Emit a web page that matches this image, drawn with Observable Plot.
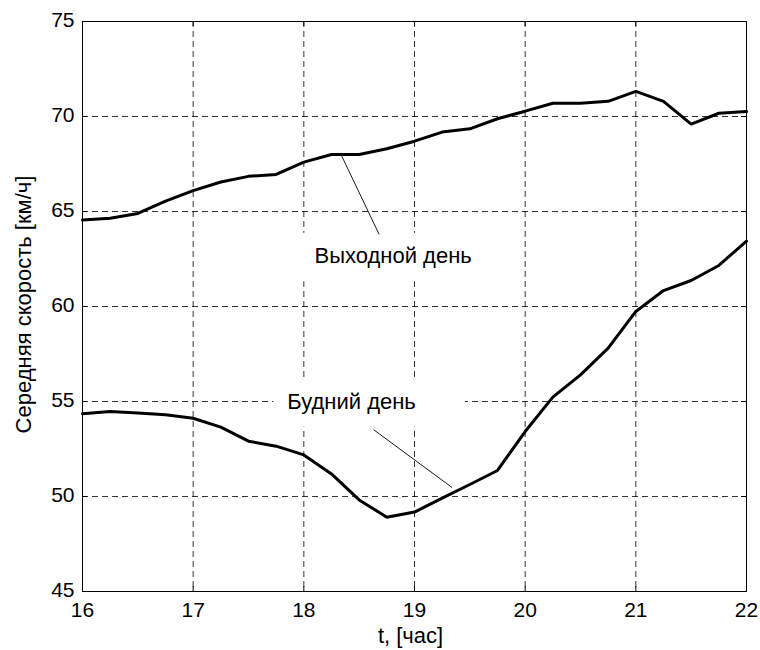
<!DOCTYPE html>
<html>
<head>
<meta charset="utf-8">
<script src="https://cdn.jsdelivr.net/npm/d3@7"></script>
<script src="https://cdn.jsdelivr.net/npm/@observablehq/plot@0.6"></script>
<style>
  html, body { margin: 0; padding: 0; background: #fff; }
  #chart svg { display: block; }
</style>
</head>
<body>
<div id="chart"></div>
<script>
// ---- data ----
const hours = [16, 16.25, 16.5, 16.75, 17, 17.25, 17.5, 17.75, 18, 18.25, 18.5, 18.75, 19,
               19.25, 19.5, 19.75, 20, 20.25, 20.5, 20.75, 21, 21.25, 21.5, 21.75, 22];
const weekend = [64.55, 64.65, 64.9, 65.55, 66.1, 66.55, 66.85, 66.95, 67.6, 68.0, 68.0, 68.3, 68.7,
                 69.18, 69.35, 69.88, 70.28, 70.7, 70.7, 70.8, 71.32, 70.8, 69.6, 70.17, 70.26];
const weekday = [54.35, 54.47, 54.4, 54.3, 54.12, 53.65, 52.91, 52.65, 52.19, 51.19, 49.82, 48.91, 49.18,
                 49.91, 50.63, 51.37, 53.42, 55.23, 56.4, 57.81, 59.74, 60.84, 61.37, 62.16, 63.44];

const xTicks = [16, 17, 18, 19, 20, 21, 22];
const yTicks = [45, 50, 55, 60, 65, 70, 75];

const xLabel = "t, [час]";
const yLabel = "Середняя скорость [км/ч]";

// annotations (labels, their anchors, white boxes and leader lines, in data units)
const noteText = ["Выходной день", "Будний день"];
const noteX = [18.096, 17.85];
const noteY = [62.27, 54.63];
const boxX1 = [17.97, 17.73];
const boxX2 = [19.9, 19.46];
const boxY1 = [61.3, 53.65];
const boxY2 = [63.85, 56.23];
const leadX1 = [18.33, 18.63];
const leadY1 = [68.07, 53.52];
const leadX2 = [18.68, 19.34];
const leadY2 = [63.80, 50.47];

// ---- build tables ----
const rows = [
  ...hours.map((t, i) => ({t, v: weekend[i], s: "weekend"})),
  ...hours.map((t, i) => ({t, v: weekday[i], s: "weekday"}))
];
const notes = noteText.map((text, i) => ({text, x: noteX[i], y: noteY[i]}));
const boxes = boxX1.map((_, i) => ({x1: boxX1[i], x2: boxX2[i], y1: boxY1[i], y2: boxY2[i]}));
const leaders = leadX1.map((_, i) => ({x1: leadX1[i], y1: leadY1[i], x2: leadX2[i], y2: leadY2[i]}));

const W = 760, H = 650;
const mL = 82, mR = 14, mT = 21, mB = 59;
const fw = W - mL - mR, fh = H - mT - mB;
const FONT = "'Liberation Sans', Arial, Helvetica, sans-serif";
const FS = 21;   // tick labels
const FT = 22;   // annotation and axis titles

const chart = Plot.plot({
  width: W,
  height: H,
  marginLeft: mL,
  marginRight: mR,
  marginTop: mT,
  marginBottom: mB,
  style: {fontFamily: FONT, fontSize: FS + "px", background: "#fff", color: "#000"},
  x: {domain: [16, 22]},
  y: {domain: [45, 75]},
  marks: [
    Plot.gridX(xTicks, {stroke: "#000", strokeOpacity: 1, strokeWidth: 0.8, strokeDasharray: "6,4"}),
    Plot.gridY(yTicks, {stroke: "#000", strokeOpacity: 1, strokeWidth: 0.8, strokeDasharray: "6,4"}),
    Plot.rect(boxes, {x1: "x1", x2: "x2", y1: "y1", y2: "y2", fill: "#fff"}),
    // inward ticks on all four sides
    Plot.ruleX(xTicks, {stroke: "#000", strokeWidth: 1, insetTop: fh - 5}),
    Plot.ruleX(xTicks, {stroke: "#000", strokeWidth: 1, insetBottom: fh - 5}),
    Plot.ruleY(yTicks, {stroke: "#000", strokeWidth: 1, insetRight: fw - 5}),
    Plot.ruleY(yTicks, {stroke: "#000", strokeWidth: 1, insetLeft: fw - 5}),
    Plot.line(rows, {x: "t", y: "v", z: "s", stroke: "#000", strokeWidth: 3, strokeLinejoin: "miter"}),
    Plot.link(leaders, {x1: "x1", y1: "y1", x2: "x2", y2: "y2", stroke: "#000", strokeWidth: 0.9}),
    Plot.text(notes, {x: "x", y: "y", text: "text", textAnchor: "start", lineAnchor: "bottom",
                      fontSize: FT, fill: "#000"}),
    Plot.frame({stroke: "#000", strokeWidth: 1}),
    Plot.axisX(xTicks, {tickSize: 0, tickPadding: 11, fontSize: FS, label: null, tickFormat: d => String(d)}),
    Plot.axisY(yTicks, {tickSize: 0, tickPadding: 8, fontSize: FS, label: null, dy: -1, tickFormat: d => String(d)}),
    Plot.text([xLabel], {frameAnchor: "bottom", dx: -4, dy: 44, fontSize: FT, fill: "#000",
                         textAnchor: "middle", lineAnchor: "middle"}),
    Plot.text([yLabel], {frameAnchor: "left", dx: -59, dy: -2, rotate: -90, fontSize: FT, fill: "#000",
                         textAnchor: "middle", lineAnchor: "middle"})
  ]
});
document.getElementById("chart").appendChild(chart);
</script>
</body>
</html>
